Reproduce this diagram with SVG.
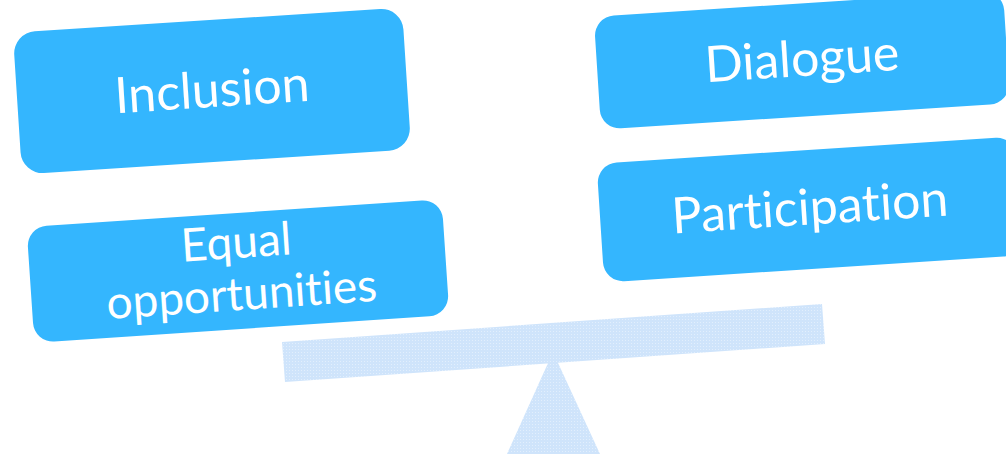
<svg xmlns="http://www.w3.org/2000/svg" width="1006" height="454" viewBox="0 0 1006 454">
  <style>
    .box { fill: #34b6fe; }
    .lbl { fill: #ffffff; font-family: Lato, "Open Sans", "Liberation Sans", sans-serif; text-anchor: middle; font-variant-ligatures: none; font-feature-settings: "liga" 0, "clig" 0, "dlig" 0; }
  </style>
  <defs>
    <pattern id="dots" width="3" height="3" patternUnits="userSpaceOnUse">
      <rect width="3" height="3" fill="#cfe4fb"/>
      <rect x="1" y="1" width="1" height="1" fill="#e2effd"/>
    </pattern>
  </defs>
  <rect width="1006" height="454" fill="#ffffff"/>
  <g id="seesaw">
    <polygon points="553,352 507,454 600,454" fill="url(#dots)"/>
    <polygon points="282,342 822,304 825,344 285,382" fill="url(#dots)"/>
  </g>
  <g id="inclusion" transform="translate(212,91) rotate(-3.7)">
    <rect class="box" x="-195" y="-71" width="390" height="142" rx="22"/>
    <text class="lbl" x="0" y="16" font-size="50">Inclusion</text>
  </g>
  <g id="dialogue" transform="translate(802,60) rotate(-3.7)">
    <rect class="box" x="-205" y="-56.5" width="410" height="113" rx="20"/>
    <text class="lbl" x="0" y="16" font-size="50">Dialogue</text>
  </g>
  <g id="participation" transform="translate(810,209.5) rotate(-3.7)">
    <rect class="box" x="-210" y="-59.5" width="420" height="119" rx="20"/>
    <text class="lbl" x="0" y="15" font-size="50">Participation</text>
  </g>
  <g id="equal-opportunities" transform="translate(238,271) rotate(-3.86)">
    <rect class="box" x="-208" y="-58" width="416" height="116" rx="20"/>
    <text class="lbl" x="0" y="-13" font-size="46">Equal</text>
    <text class="lbl" x="2" y="39" font-size="46">opportunities</text>
  </g>
</svg>
